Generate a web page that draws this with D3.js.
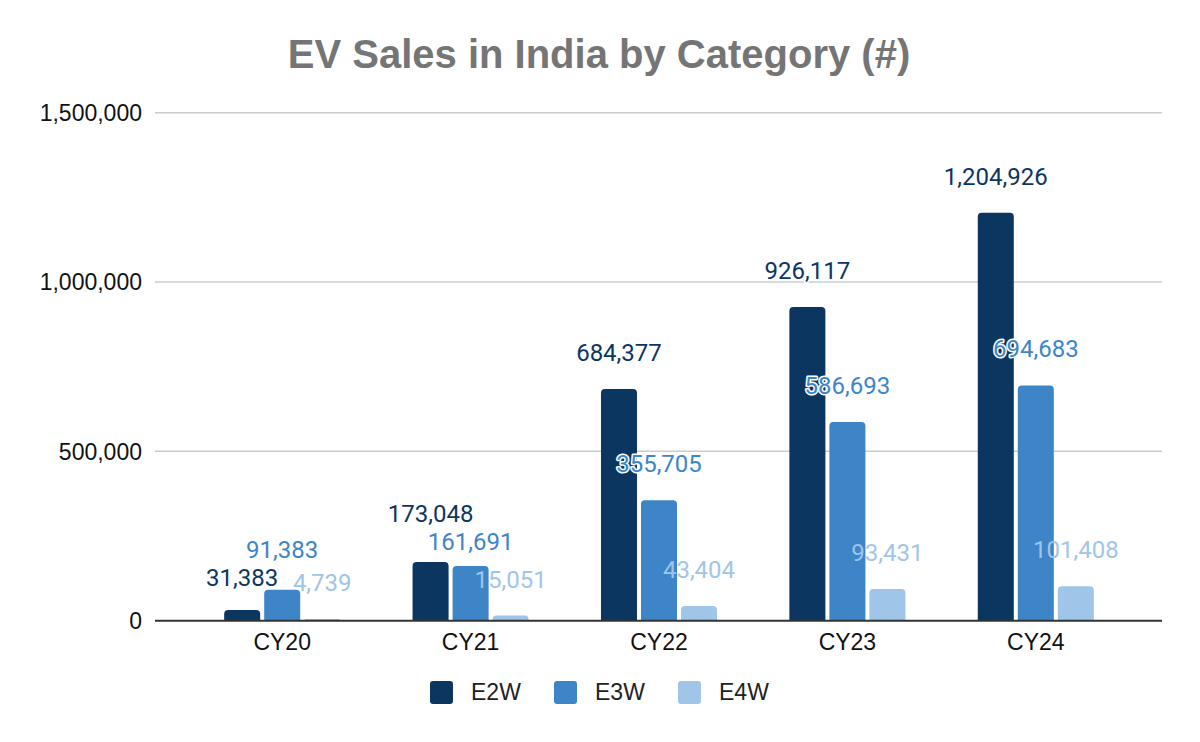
<!DOCTYPE html>
<html><head><meta charset="utf-8">
<script src="https://cdn.jsdelivr.net/npm/d3@7"></script>
<style>body{margin:0;background:#fff}svg{display:block}</style>
</head><body>
<svg id="c" width="1200" height="742"></svg>
<script>
const categories = ["CY20","CY21","CY22","CY23","CY24"];
const seriesNames = ["E2W","E3W","E4W"];
const e2w = [31383,173048,684377,926117,1204926];
const e3w = [91383,161691,355705,586693,694683];
const e4w = [4739,15051,43404,93431,101408];
const yTicks = [0,500000,1000000,1500000];
const colors = ["#0b365f","#3d85c6","#9fc5e8"];
const seriesValues = [e2w,e3w,e4w];

const svg = d3.select("#c");
const x0 = d3.scaleBand().domain(categories).range([188,1130]).paddingInner(0.384).paddingOuter(0.192);
const x1 = d3.scaleBand().domain(seriesNames).range([0,x0.bandwidth()]).paddingInner(0.1).paddingOuter(0);
const y = d3.scaleLinear().domain([0,1500000]).range([620.7,112.7]);
const fmt = d3.format(",");

svg.append("text").attr("x",599).attr("y",68).attr("text-anchor","middle")
  .style("font-family","'Liberation Sans',Arial,sans-serif").style("font-weight","bold")
  .style("font-size","40px").style("fill","#757575").text("EV Sales in India by Category (#)");

// gridlines
svg.append("g").selectAll("line").data(yTicks.filter(d=>d>0)).join("line")
  .attr("x1",155).attr("x2",1162).attr("y1",d=>y(d)).attr("y2",d=>y(d))
  .attr("stroke","#cccccc").attr("stroke-width",1.5);
svg.append("g").selectAll("text").data(yTicks).join("text")
  .attr("x",142).attr("y",d=>y(d)).attr("dy","0.36em").attr("text-anchor","end")
  .style("font-family","'Liberation Sans',Arial,sans-serif").style("font-size","23px").style("fill","#111")
  .text(d=>fmt(d));

function barPath(x,w,top,bottom,r){
  r=Math.min(r,(bottom-top),w/2);
  return `M${x},${bottom}V${top+r}Q${x},${top} ${x+r},${top}H${x+w-r}Q${x+w},${top} ${x+w},${top+r}V${bottom}Z`;
}
const bars = [];
categories.forEach((c,i)=>seriesNames.forEach((s,j)=>bars.push({c,s,j,i,v:seriesValues[j][i]})));
svg.append("g").selectAll("path").data(bars).join("path")
  .attr("d",d=>barPath(x0(d.c)+x1(d.s),x1.bandwidth(),y(d.v),y(0),4))
  .attr("fill",d=>colors[d.j]);

// axis baseline
svg.append("line").attr("x1",155).attr("x2",1162).attr("y1",y(0)).attr("y2",y(0))
  .attr("stroke","#333").attr("stroke-width",2);

svg.append("g").selectAll("text").data(categories).join("text")
  .attr("x",d=>x0(d)+x0.bandwidth()/2).attr("y",650).attr("text-anchor","middle")
  .style("font-family","'Liberation Sans',Arial,sans-serif").style("font-size","23px").style("fill","#111")
  .text(d=>d);

// data labels with simple collision avoidance
bars.forEach(d=>{ d.ly = y(d.v)-28; });
const labels = svg.append("g").selectAll("text").data(bars).join("text")
  .attr("x",d=>x0(d.c)+x1(d.s)+x1.bandwidth()/2).attr("y",d=>d.ly).attr("text-anchor","middle")
  .style("font-family","Roboto,sans-serif").style("font-size","24px")
  .style("fill",d=>colors[d.j])
  .style("stroke",d=>d.j<2?"#fff":"none").style("stroke-width",3)
  .style("paint-order","stroke").style("stroke-linejoin","round")
  .text(d=>fmt(d.v));
labels.each(function(d){ const w=this.getComputedTextLength(); d.cx=+this.getAttribute("x"); d.w=w; });
const minSep = 28;
for(let iter=0; iter<20; iter++){
  let moved=false;
  for(let a=0;a<bars.length;a++) for(let b=a+1;b<bars.length;b++){
    const A=bars[a],B=bars[b];
    if(Math.abs(A.cx-B.cx) < (A.w+B.w)/2 && Math.abs(A.ly-B.ly) < minSep){
      const mid=(A.ly+B.ly)/2, up = A.ly<=B.ly ? A : B, dn = up===A ? B : A;
      up.ly = mid-minSep/2; dn.ly = mid+minSep/2; moved=true;
    }
  }
  if(!moved) break;
}
labels.attr("y",d=>d.ly);

// legend
const legX = [430,554,678];
const lg = svg.append("g").selectAll("g").data(seriesNames).join("g")
  .attr("transform",(d,i)=>`translate(${legX[i]},681)`);
lg.append("rect").attr("width",23).attr("height",23).attr("rx",3).attr("fill",(d,i)=>colors[i]);
lg.append("text").attr("x",41).attr("y",19)
  .style("font-family","'Liberation Sans',Arial,sans-serif").style("font-size","23px").style("fill","#222")
  .text(d=>d);
</script>
</body></html>
